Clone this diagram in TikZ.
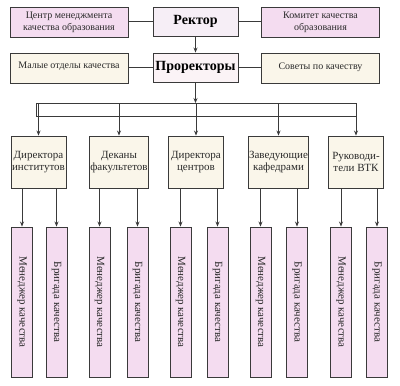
\documentclass[tikz,border=0pt]{standalone}
\usepackage{fontspec}
\setmainfont{Liberation Serif}
\usetikzlibrary{arrows.meta}
\definecolor{pinkf}{HTML}{F4DCF0}
\definecolor{creamf}{HTML}{FAF6EA}
\definecolor{rektf}{HTML}{F6EEF6}
\definecolor{prorf}{HTML}{FBF3F6}
\definecolor{edge}{HTML}{3A3A3A}
\definecolor{txt}{HTML}{2A2A2A}
\newcommand{\uptext}[2]{\raisebox{#1}{\begin{tabular}{@{}c@{}}#2\end{tabular}}}
\tikzset{
  box/.style={draw=edge, line width=0.9pt, inner sep=1pt, align=center, text=txt, font=\fontsize{10}{11.5}\selectfont},
  pinkbox/.style={box, fill=pinkf},
  creambox/.style={box, fill=creamf},
  headbox/.style={box, text=black, font=\fontsize{14}{16}\selectfont\bfseries, minimum width=85pt, minimum height=29pt},
  sidebox/.style={minimum width=118pt, minimum height=30pt},
  dirbox/.style={creambox, minimum width=55pt, minimum height=52pt, font=\fontsize{11}{12.5}\selectfont},
  botbox/.style={pinkbox, minimum width=21pt, minimum height=150pt},
  conn/.style={draw=edge, line width=0.7pt},
  arr/.style={conn, -{Stealth[length=5pt,width=4pt]}},
  vtext/.style={rotate=-90, text=txt, font=\fontsize{11}{12}\selectfont}
}
\begin{document}
\begin{tikzpicture}[x=1pt,y=-1pt]
\useasboundingbox[fill=white] (0,0) rectangle (400,386);
% top rows
\node[headbox, fill=rektf] (rk) at (195.5,21.5) {\raisebox{2pt}{Ректор}};
\node[headbox, fill=prorf] (pr) at (195.5,67.5) {\raisebox{1pt}{Проректоры}};
\node[pinkbox, sidebox] (cm) at (69,22) {\uptext{1.5pt}{Центр менеджмента\\качества образования}};
\node[pinkbox, sidebox] (kk) at (320.5,22) {\uptext{2.5pt}{Комитет качества\\образования}};
\node[creambox, sidebox] (mo) at (69,68) {\uptext{6pt}{Малые отделы качества}};
\node[creambox, sidebox] (sk) at (320.5,68) {\uptext{5pt}{Советы по качеству}};
\draw[conn] (cm.east |- rk.west) -- (rk.west);
\draw[conn] (rk.east) -- (kk.west |- rk.east);
\draw[conn] (mo.east |- pr.west) -- (pr.west);
\draw[conn] (pr.east) -- (sk.west |- pr.east);
\draw[arr] (rk.south) -- (pr.north);
% directors
\node[dirbox] (d1) at (38.5,162) {Директора\\институтов};
\node[dirbox] (d2) at (119,162) {Деканы\\факультетов};
\node[dirbox] (d3) at (196,162) {Директора\\центров};
\node[dirbox] (d4) at (278.5,162) {Заведующие\\кафедрами};
\node[dirbox] (d5) at (356,162) {Руководи-\\тели ВТК};
% bus
\coordinate (bl) at (36,103);
\coordinate (br) at (356,116);
\draw[conn] (bl) rectangle (br);
\draw[arr] (pr.south) -- (pr.south |- bl);
\foreach \d in {d1,d2,d3,d4,d5}{
  \draw[arr] (\d.north |- bl) -- (\d.north);
}
% bottom boxes
\foreach \n/\x/\t in {b1/22/Менеджер качества, b2/56.5/Бригада качества,
                     b3/99.5/Менеджер качества, b4/137.5/Бригада качества,
                     b5/180.5/Менеджер качества, b6/217.5/Бригада качества,
                     b7/260.5/Менеджер качества, b8/297/Бригада качества,
                     b9/341/Менеджер качества, b10/377/Бригада качества}{
  \node[botbox] (\n) at (\x,302) {};
  \node[vtext] (\n t) at (\n.center) {\t};
}
\foreach \d/\a/\b in {d1/b1/b2, d2/b3/b4, d3/b5/b6, d4/b7/b8, d5/b9/b10}{
  \draw[arr] (\a.north |- \d.south) -- (\a.north);
  \draw[arr] (\b.north |- \d.south) -- (\b.north);
}
\end{tikzpicture}
\end{document}
